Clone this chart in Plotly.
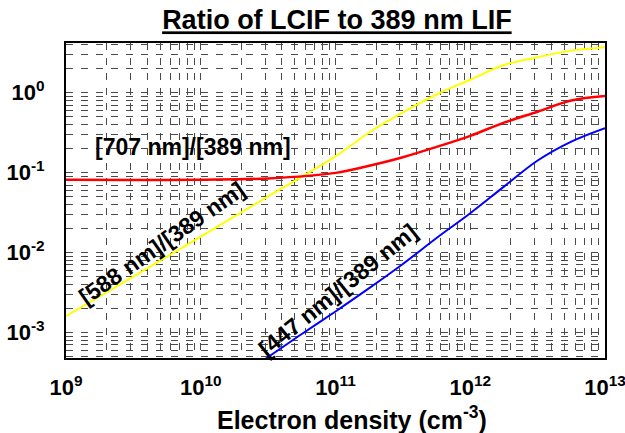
import plotly.graph_objects as go

# data (log-log)
density = [1e9, 10**9.5, 1e10, 10**10.5, 1e11, 10**11.25, 10**11.5, 10**11.75,
           1e12, 10**12.25, 10**12.5, 10**12.75, 1e13]
ratio_588 = [1.6e-3, 4.99e-3, 1.585e-2, 5.04e-2, 0.160, 0.318, 0.566, 0.951,
             1.455, 2.223, 2.786, 3.365, 3.715]
ratio_707 = [0.0815, 0.0806, 0.0817, 0.0847, 0.0993, 0.122, 0.156, 0.210,
             0.289, 0.422, 0.579, 0.798, 0.908]
density_447 = [10**10.25, 10**10.5, 10**10.75, 1e11, 10**11.25, 10**11.5, 10**11.75,
               1e12, 10**12.25, 10**12.5, 10**12.75, 1e13]
ratio_447 = [2.61e-4, 4.93e-4, 9.55e-4, 1.83e-3, 3.58e-3, 7.19e-3, 1.52e-2,
             3.10e-2, 6.68e-2, 0.142, 0.245, 0.361]

x_ticks = [1e9, 1e10, 1e11, 1e12, 1e13]
x_labels = ["<b>10<sup>9</sup></b>", "<b>10<sup>10</sup></b>", "<b>10<sup>11</sup></b>",
            "<b>10<sup>12</sup></b>", "<b>10<sup>13</sup></b>"]
y_ticks = [1e-3, 1e-2, 1e-1, 1]
y_labels = ["<b>10<sup>-3</sup></b>", "<b>10<sup>-2</sup></b>", "<b>10<sup>-1</sup></b>", "<b>10<sup>0</sup></b>"]

FONT = "Arial, Liberation Sans, sans-serif"
GRID = "#4a4a4a"

fig = go.Figure()
fig.add_trace(go.Scatter(x=density, y=ratio_588, mode="lines", line=dict(color="#ffff00", width=2, shape="spline")))
fig.add_trace(go.Scatter(x=density, y=ratio_707, mode="lines", line=dict(color="#ff0000", width=2.5, shape="spline")))
fig.add_trace(go.Scatter(x=density_447, y=ratio_447, mode="lines", line=dict(color="#0000ff", width=2, shape="spline")))

# labels on the curves
labels = [
    ("[707 nm]/[389 nm]", 9.942, -0.681, 0),
    ("[588 nm]/[389 nm]", 9.712, -1.881, -35),
    ("[447 nm]/[389 nm]", 11.019, -2.469, -39),
]
for text, lx, ly, ang in labels:
    fig.add_annotation(x=lx, y=ly, text="<b>" + text + "</b>", showarrow=False,
                       textangle=ang, font=dict(family=FONT, size=23, color="black"))

# x axis title
fig.add_annotation(x=0.53, y=-0.19, xref="paper", yref="paper", showarrow=False,
                   text="<b>Electron density (cm<sup>-3</sup>)</b>", yanchor="middle",
                   font=dict(family=FONT, size=25, color="black"))

minor_x = [m * 10**d for d in range(9, 13) for m in range(2, 10)]
minor_y = [m * 10.0**d for d in range(-4, 1) for m in range(2, 10)]

fig.update_xaxes(type="log", range=[9, 13], tickvals=x_ticks, ticktext=x_labels,
                 showline=True, linecolor="black", linewidth=2, mirror=True, ticks="",
                 showgrid=True, gridcolor=GRID, gridwidth=1, griddash="7px,8px",
                 minor=dict(tickvals=minor_x, showgrid=True, gridcolor=GRID, gridwidth=1, griddash="7px,8px"),
                 tickfont=dict(family=FONT, size=22, color="black"), ticklabeloverflow="allow",
                 ticklabelstandoff=9, zeroline=False, automargin=False)
fig.update_yaxes(type="log", range=[-3.32, 0.6225], tickvals=y_ticks, ticktext=y_labels,
                 showline=True, linecolor="black", linewidth=2, mirror=True, ticks="",
                 showgrid=True, gridcolor=GRID, gridwidth=1, griddash="7px,8px",
                 minor=dict(tickvals=minor_y, showgrid=True, gridcolor=GRID, gridwidth=1, griddash="7px,8px"),
                 tickfont=dict(family=FONT, size=22, color="black"), ticklabelstandoff=15,
                 ticklabeloverflow="allow", zeroline=False, automargin=False)

fig.update_layout(
    template="none",
    width=625, height=433,
    margin=dict(l=66, r=20, t=43, b=75),
    paper_bgcolor="white", plot_bgcolor="white",
    showlegend=False,
    font=dict(family=FONT, color="black"),
    title=dict(text="<b><u>Ratio of LCIF to 389 nm LIF</u></b>", x=0.539, xanchor="center",
               y=0.954, yanchor="middle", font=dict(family=FONT, size=27, color="black")),
)

# drop the browser's default body margin so the figure sits at the page corner
fig.write_html("out.html", config={"displayModeBar": False},
               post_script="document.body.style.margin='0px';")
